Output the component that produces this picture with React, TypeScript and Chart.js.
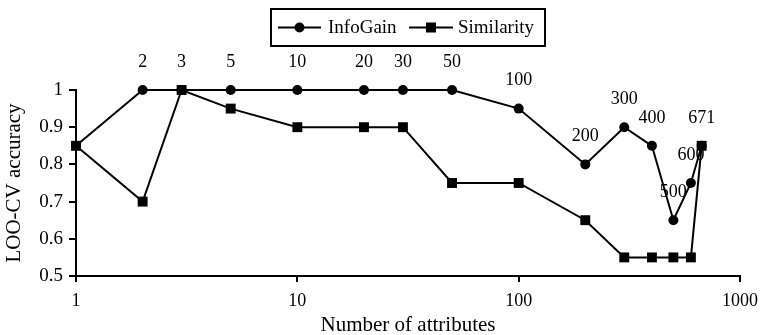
import React, { useEffect, useRef } from "react";
import { Chart, registerables } from "chart.js";

Chart.register(...registerables);

const attributeCounts = [1, 2, 3, 5, 10, 20, 30, 50, 100, 200, 300, 400, 500, 600, 671];
const infoGain = [0.85, 1, 1, 1, 1, 1, 1, 1, 0.95, 0.8, 0.9, 0.85, 0.65, 0.75, 0.85];
const similarity = [0.85, 0.7, 1, 0.95, 0.9, 0.9, 0.9, 0.75, 0.75, 0.65, 0.55, 0.55, 0.55, 0.55, 0.85];
const pointLabels = ["", "2", "3", "5", "10", "20", "30", "50", "100", "200", "300", "400", "500", "600", "671"];
const xTickValues = [1, 10, 100, 1000];
const seriesNames = ["InfoGain", "Similarity"];

const FONT = '"Liberation Serif", "Times New Roman", serif';

const isMajor = (v: number) => Math.round(v * 100) % 10 === 0;

const pointLabelPlugin = {
  id: "pointLabels",
  beforeDatasetsDraw(chart: any) {
    const ctx = chart.ctx;
    const meta = chart.getDatasetMeta(0);
    ctx.save();
    ctx.font = `18px ${FONT}`;
    ctx.fillStyle = "#000";
    ctx.textAlign = "center";
    ctx.textBaseline = "middle";
    meta.data.forEach((pt: any, i: number) => {
      const lbl = pointLabels[i];
      if (!lbl) return;
      ctx.fillText(lbl, pt.x, pt.y - 28);
    });
    ctx.restore();
  },
};

const minorTickPlugin = {
  id: "minorTicks",
  afterDraw(chart: any) {
    const ctx = chart.ctx;
    const y = chart.scales.y;
    const x0 = chart.chartArea.left;
    ctx.save();
    ctx.strokeStyle = "#000";
    ctx.lineWidth = 2;
    y.ticks.forEach((t: any) => {
      if (isMajor(t.value)) return;
      const py = Math.round(y.getPixelForValue(t.value));
      ctx.beginPath();
      ctx.moveTo(x0 - 4, py);
      ctx.lineTo(x0 + 1, py);
      ctx.stroke();
    });
    ctx.restore();
  },
};

const boxLegendPlugin = {
  id: "boxLegend",
  afterDraw(chart: any) {
    const ctx = chart.ctx;
    ctx.save();
    const left = 271, top = 9, right = 545, bottom = 46;
    ctx.fillStyle = "#fff";
    ctx.fillRect(left, top, right - left, bottom - top);
    ctx.strokeStyle = "#000";
    ctx.lineWidth = 2;
    ctx.strokeRect(left, top, right - left, bottom - top);
    const cy = (top + bottom) / 2;
    ctx.font = `19px ${FONT}`;
    ctx.fillStyle = "#000";
    ctx.textBaseline = "middle";
    ctx.textAlign = "left";
    ctx.lineWidth = 2;
    ctx.beginPath();
    ctx.moveTo(278, cy);
    ctx.lineTo(321, cy);
    ctx.stroke();
    ctx.beginPath();
    ctx.arc(299.5, cy, 5, 0, Math.PI * 2);
    ctx.fill();
    ctx.fillText(seriesNames[0], 328, cy + 1);
    ctx.beginPath();
    ctx.moveTo(409, cy);
    ctx.lineTo(453, cy);
    ctx.stroke();
    ctx.fillRect(431 - 5, cy - 5, 10, 10);
    ctx.fillText(seriesNames[1], 458, cy + 1);
    ctx.restore();
  },
};

export default function App() {
  const ref = useRef<HTMLCanvasElement>(null);
  useEffect(() => {
    document.body.style.margin = "0";
    const chart = new Chart(ref.current!, {
      type: "line",
      data: {
        datasets: [
          {
            label: seriesNames[0],
            data: attributeCounts.map((x, i) => ({ x, y: infoGain[i] })),
            borderColor: "#000",
            backgroundColor: "#000",
            borderWidth: 2,
            pointStyle: "circle",
            pointRadius: 5,
            pointBorderWidth: 0,
            clip: false,
          },
          {
            label: seriesNames[1],
            data: attributeCounts.map((x, i) => ({ x, y: similarity[i] })),
            borderColor: "#000",
            backgroundColor: "#000",
            borderWidth: 2,
            pointStyle: "rect",
            pointRadius: 7,
            pointBorderWidth: 0,
            clip: false,
          },
        ],
      },
      options: {
        responsive: false,
        animation: false,
        layout: { padding: { left: 0, top: 90, right: 21, bottom: 0 } },
        plugins: {
          legend: { display: false },
          tooltip: { enabled: false },
        },
        scales: {
          x: {
            type: "logarithmic",
            min: 1,
            max: 1000,
            afterBuildTicks: (scale: any) => {
              scale.ticks = xTickValues.map((v) => ({ value: v }));
            },
            afterFit: (scale: any) => {
              scale.height = 59;
              scale.paddingLeft = 0;
              scale.paddingRight = 0;
            },
            ticks: {
              color: "#000",
              font: { family: FONT, size: 18 },
              padding: 8,
              maxRotation: 0,
              autoSkip: false,
              callback: (v: any) => String(v),
            },
            grid: {
              display: true,
              drawOnChartArea: false,
              drawTicks: true,
              tickLength: 6,
              color: "#000",
              lineWidth: 2,
            },
            border: { display: true, color: "#000", width: 2 },
            title: {
              display: true,
              text: "Number of attributes",
              color: "#000",
              font: { family: FONT, size: 21, lineHeight: 1 },
              padding: { top: 0, bottom: -1 },
            },
          },
          y: {
            type: "linear",
            min: 0.5,
            max: 1,
            afterFit: (scale: any) => {
              scale.width = 76;
              scale.paddingTop = 0;
              scale.paddingBottom = 0;
            },
            ticks: {
              stepSize: 0.05,
              color: "#000",
              font: { family: FONT, size: 19 },
              padding: 6,
              callback: (v: any) => {
                const r = Math.round(Number(v) * 100);
                if (r % 10 !== 0) return "";
                return String(r / 100);
              },
            },
            grid: {
              display: true,
              drawOnChartArea: false,
              drawTicks: true,
              tickLength: 7,
              color: (c: any) => (c.tick && isMajor(c.tick.value) ? "#000" : "rgba(0,0,0,0)"),
              lineWidth: 2,
            },
            border: { display: true, color: "#000", width: 2 },
            title: {
              display: true,
              text: "LOO-CV accuracy",
              color: "#000",
              font: { family: FONT, size: 21 },
              padding: { top: 2, bottom: 0 },
            },
          },
        },
      },
      plugins: [pointLabelPlugin, minorTickPlugin, boxLegendPlugin],
    } as any);
    return () => chart.destroy();
  }, []);
  return (
    <div style={{ position: "absolute", left: 0, top: 0, width: 761, height: 335 }}>
      <canvas ref={ref} width={761} height={335} />
    </div>
  );
}
